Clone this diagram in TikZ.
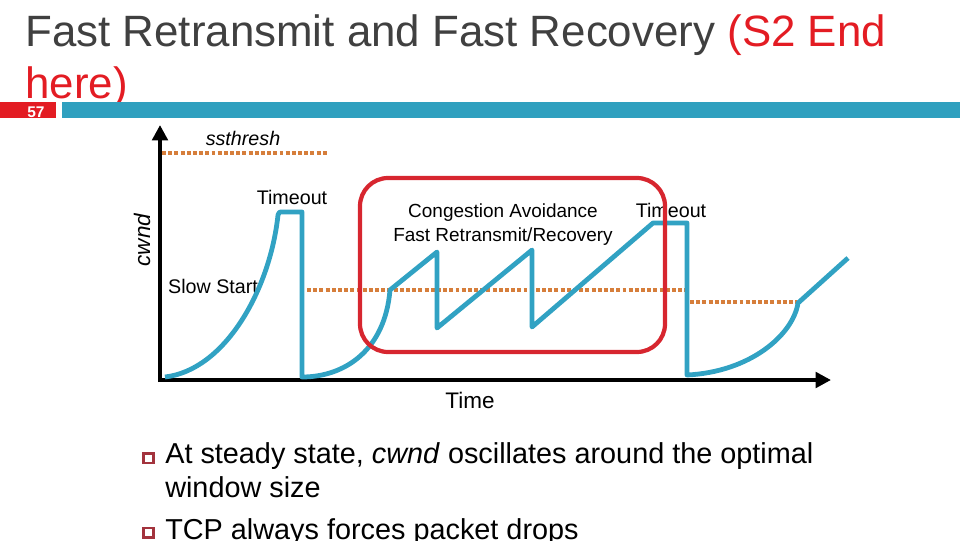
\documentclass[tikz,border=0pt]{standalone}
\usepackage{fontspec}
\setmainfont{Liberation Sans}
\usetikzlibrary{arrows.meta}
\definecolor{titlegray}{HTML}{404040}
\definecolor{titlered}{HTML}{E31C23}
\definecolor{barblue}{HTML}{2FA0BF}
\definecolor{curveblue}{HTML}{31A2C3}
\definecolor{boxred}{HTML}{D7262F}
\definecolor{threshorange}{HTML}{D67E3B}
\definecolor{bulletred}{HTML}{A3333D}
\tikzset{
  lbl/.style={font=\fontsize{14}{16}\selectfont, inner sep=0pt},
  thresh/.style={threshorange, line width=2.8pt, dash pattern=on 2.8pt off 1.6pt},
  window/.style={curveblue, line width=3.4pt, line join=round},
  axis/.style={line width=2.9pt, -{Triangle[length=11pt,width=11pt]}},
  bulletbox/.style={bulletred, line width=1.6pt},
  bullettext/.style={anchor=base west, inner sep=0pt, font=\fontsize{20.5}{24}\selectfont}
}
\begin{document}
\begin{tikzpicture}[x=0.025cm, y=-0.025cm]
      \useasboundingbox (0,0) rectangle (960,540);
      % title and bar
      \node[anchor=base west, inner sep=0pt, text=titlegray, font=\fontsize{31.2}{36}\selectfont]
        (title) at (25,46) {Fast Retransmit and Fast Recovery \textcolor{titlered}{(S2 End}};
      \node[anchor=base west, inner sep=0pt, text=titlered, font=\fontsize{31.2}{36}\selectfont]
        (titlewrap) at (25,98) {here)};
      \fill[titlered] (0,102) rectangle (56,118);
      \fill[barblue] (62,102) rectangle (960,118);
      \node[text=white, font=\bfseries\fontsize{11}{12}\selectfont, inner sep=0pt] (page) at (36,112) {57};
      % thresholds
      \draw[thresh] (162,153) -- (327,153);
      \draw[thresh] (307,290) -- (687,290);
      \draw[thresh] (690,302) -- (797,302);
      % axes
      \coordinate (origin) at (160,380);
      \coordinate (ytop) at (160,125);
      \coordinate (xend) at (831,380);
      \draw[axis] (160,382) -- (ytop);
      \draw[axis] (158,380) -- (xend);
      % labels
      \draw
        (243,138) node[lbl, font=\itshape\fontsize{14}{16}\selectfont] (ssthresh){ssthresh}
        (142,240) node[lbl, rotate=90, font=\itshape\fontsize{16}{18}\selectfont] (cwnd){cwnd}
        (292,197) node[lbl] (timeoutA){Timeout}
        (213,286) node[lbl] (slowstart){Slow Start}
        (503,225) node[lbl, align=center, font=\fontsize{13.5}{17}\selectfont] (avoid){Congestion Avoidance\\Fast Retransmit/Recovery}
        (671,210) node[lbl] (timeoutB){Timeout}
        (470,400) node[lbl, font=\fontsize{16}{18}\selectfont] (time){Time};
      % congestion window
      \begin{scope}[window]
        \draw (165,377) .. controls (225,370) and (270,290) .. (278,215)
          .. controls (279,212) .. (283,212)
          -- (302,212) -- (302,377)
          .. controls (345,377) and (385,350) .. (390,290)
          -- (437,252) -- (437,328) -- (532,250) -- (532,327)
          -- (653,223) -- (687,223) -- (687,375)
          .. controls (750,372) and (793,335) .. (798,303) -- (848,258);
      \end{scope}
      \draw[boxred, line width=3pt, rounded corners=20pt] (360,178) rectangle (665,352);
      % bullets
      \draw[bulletbox] (143.5,453.5) rectangle (153.5,463);
      \draw[bulletbox] (143.5,528) rectangle (153.5,537.5);
      \node[bullettext] (itemA) at (165,463) {At steady state, \textit{cwnd} oscillates around the optimal};
      \node[bullettext] (itemAwrap) at (165,497) {window size};
      \node[bullettext] (itemB) at (165,539) {TCP always forces packet drops};
    \end{tikzpicture}
\end{document}
